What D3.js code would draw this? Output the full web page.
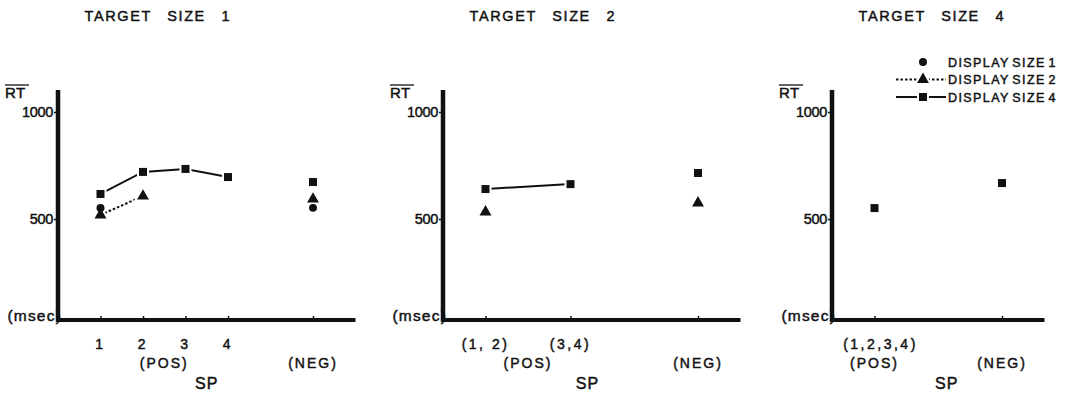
<!DOCTYPE html>
<html>
<head>
<meta charset="utf-8">
<script src="https://cdn.jsdelivr.net/npm/d3@7"></script>
<style>
  body { margin: 0; background: #fff; }
  svg { display: block; }
  text { font-family: "Liberation Sans", Arial, sans-serif; fill: #111; stroke: #111; stroke-width: 0.45px; }
</style>
</head>
<body>
<svg id="chart" width="1076" height="408"></svg>
<script>
// titles of the three panels
var titles = ["TARGET SIZE 1", "TARGET SIZE 2", "TARGET SIZE 4"];

// x slots (SP categories) of each panel
var slots1 = [1, 2, 3, 4, 6];
var slots2 = [1, 3, 6];
var slots3 = [1, 4];

// tick labels, first row
var ticks1 = ["1", "2", "3", "4"];
var ticks2 = ["(1, 2)", "(3,4)"];
var ticks3 = ["(1,2,3,4)"];

// mean RT (msec), null = no point
var p1Display1 = [551, null, null, null, 552];
var p1Display2 = [519, 607, null, null, 593];
var p1Display4 = [617, 720, 734, 696, 673];

var p2Display1 = [null, null, null];
var p2Display2 = [533, null, 575];
var p2Display4 = [640, 663, 715];

var p3Display1 = [null, null];
var p3Display2 = [null, null];
var p3Display4 = [551, 668];

var yTicks = [500, 1000];
var legendLabels = ["DISPLAY SIZE 1", "DISPLAY SIZE 2", "DISPLAY SIZE 4"];

var panels = [
    {title: titles[0], x0: 58, slots: slots1, ticks: ticks1, nPos: 4, end: 7,
     posAt: 2.5, negAt: 6, spAt: 3.5, tickShift: 0,
     series: [p1Display1, p1Display2, p1Display4]},
    {title: titles[1], x0: 443, slots: slots2, ticks: ticks2, nPos: 2, end: 7,
     posAt: 2, negAt: 6, spAt: 3.4, tickShift: 0,
     series: [p2Display1, p2Display2, p2Display4]},
    {title: titles[2], x0: 832, slots: slots3, ticks: ticks3, nPos: 1, end: 5,
     posAt: 1, negAt: 4, spAt: 2.7, tickShift: 6,
     series: [p3Display1, p3Display2, p3Display4]}
];

var svg = d3.select("#chart");
var axisY = 320, axisTop = 90;
var y = d3.scaleLinear().domain([500, 1000]).range([219, 112]);

var symbols = [d3.symbolCircle, d3.symbolTriangle, d3.symbolSquare];
var symbolSizes = [50, 62, 64];
var dashes = [null, "2.5,2", null];

// white halo first, so lines stop short of the marks
function drawHalo(g, kind, cx, cy) {
    g.append("path")
        .attr("d", d3.symbol().type(symbols[kind]).size(symbolSizes[kind]))
        .attr("transform", "translate(" + cx + "," + cy + ")")
        .attr("fill", "#fff")
        .attr("stroke", "#fff")
        .attr("stroke-width", 4);
}

function drawMarker(g, kind, cx, cy) {
    g.append("path")
        .attr("d", d3.symbol().type(symbols[kind]).size(symbolSizes[kind]))
        .attr("transform", "translate(" + cx + "," + cy + ")")
        .attr("fill", "#111");
}

panels.forEach(function (p) {
    var x = d3.scaleLinear().domain([0, 7]).range([p.x0, p.x0 + 297.5]);
    var g = svg.append("g").classed("panel", true);

    // title
    g.append("text")
        .attr("x", x(2.35))
        .attr("y", 21)
        .attr("text-anchor", "middle")
        .attr("font-size", 14.5)
        .attr("letter-spacing", 1.6)
        .attr("word-spacing", 10)
        .text(p.title);

    // y axis ticks + labels
    var yAxis = d3.axisLeft(y).tickValues(yTicks).tickSize(4).tickSizeOuter(0)
        .tickPadding(1).tickFormat(d3.format("d"));
    var ya = g.append("g").attr("transform", "translate(" + p.x0 + ",0)").call(yAxis);
    ya.select(".domain").remove();
    ya.selectAll("line").attr("stroke", "#111").attr("stroke-width", 1.5);
    ya.selectAll("text").attr("font-size", 14.5).attr("font-family", "Liberation Sans, Arial, sans-serif")
        .attr("fill", "#111").attr("letter-spacing", -0.3);

    // x axis ticks
    var xAxis = d3.axisBottom(x).tickValues(p.slots).tickSize(-4).tickSizeOuter(0).tickFormat("");
    var xa = g.append("g").attr("transform", "translate(0," + axisY + ")").call(xAxis);
    xa.select(".domain").remove();
    xa.selectAll("line").attr("stroke", "#111").attr("stroke-width", 1.5);

    // RT label with overline, (msec)
    g.append("text")
        .attr("x", p.x0 - 53).attr("y", 98)
        .attr("font-size", 15)
        .attr("letter-spacing", 0.5)
        .text("RT");
    g.append("line")
        .attr("x1", p.x0 - 53).attr("x2", p.x0 - 29)
        .attr("y1", 85).attr("y2", 85)
        .attr("stroke", "#111").attr("stroke-width", 1.3);
    g.append("text")
        .attr("x", p.x0 + 4).attr("y", 321)
        .attr("text-anchor", "end")
        .attr("font-size", 15.5)
        .attr("letter-spacing", 1.2)
        .text("(msec)");

    // thick axis lines
    g.append("line")
        .attr("x1", p.x0).attr("x2", p.x0)
        .attr("y1", axisTop).attr("y2", axisY + 2)
        .attr("stroke", "#111").attr("stroke-width", 4.5);
    g.append("line")
        .attr("x1", p.x0 - 2).attr("x2", x(p.end))
        .attr("y1", axisY).attr("y2", axisY)
        .attr("stroke", "#111").attr("stroke-width", 4);

    // category labels
    g.selectAll("text.tick-lab")
        .data(p.ticks)
        .enter()
        .append("text")
        .classed("tick-lab", true)
        .attr("x", function (d, i) { return x(p.slots[i]) + p.tickShift; })
        .attr("y", 349)
        .attr("text-anchor", "middle")
        .attr("font-size", 14)
        .attr("letter-spacing", 2.5)
        .text(function (d) { return d; });
    g.append("text")
        .attr("x", x(p.posAt)).attr("y", 368)
        .attr("text-anchor", "middle")
        .attr("font-size", 14)
        .attr("letter-spacing", 2)
        .text("(POS)");
    g.append("text")
        .attr("x", x(p.negAt)).attr("y", 368)
        .attr("text-anchor", "middle")
        .attr("font-size", 14)
        .attr("letter-spacing", 2)
        .text("(NEG)");
    g.append("text")
        .attr("x", x(p.spAt)).attr("y", 389)
        .attr("text-anchor", "middle")
        .attr("font-size", 16)
        .attr("letter-spacing", 1)
        .text("SP");

    // connecting lines over the positive slots
    p.series.forEach(function (vals, k) {
        var pts = [];
        for (var i = 0; i < p.nPos; i++) {
            if (vals[i] != null) pts.push([x(p.slots[i]), y(vals[i])]);
        }
        if (pts.length < 2) return;
        g.append("path")
            .attr("d", d3.line()(pts))
            .attr("fill", "none")
            .attr("stroke", "#111")
            .attr("stroke-width", 2)
            .attr("stroke-dasharray", dashes[k]);
    });

    // markers: halos, then marks
    p.series.forEach(function (vals, k) {
        vals.forEach(function (v, i) {
            if (v != null) drawHalo(g, k, x(p.slots[i]), y(v));
        });
    });
    p.series.forEach(function (vals, k) {
        vals.forEach(function (v, i) {
            if (v != null) drawMarker(g, k, x(p.slots[i]), y(v));
        });
    });
});

// legend
var legend = svg.append("g").classed("legend", true);
legendLabels.forEach(function (lab, k) {
    var ly = 62 + k * 17.5;
    if (k > 0) {
        legend.append("line")
            .attr("x1", 896).attr("x2", 946)
            .attr("y1", ly).attr("y2", ly)
            .attr("stroke", "#111").attr("stroke-width", 2)
            .attr("stroke-dasharray", dashes[k]);
    }
    drawHalo(legend, k, 923, ly);
    drawMarker(legend, k, 923, ly);
    legend.append("text")
        .attr("x", 948).attr("y", ly + 4.5)
        .attr("font-size", 12.5)
        .attr("letter-spacing", 1.4)
        .attr("word-spacing", -2)
        .text(lab);
});
</script>
</body>
</html>
